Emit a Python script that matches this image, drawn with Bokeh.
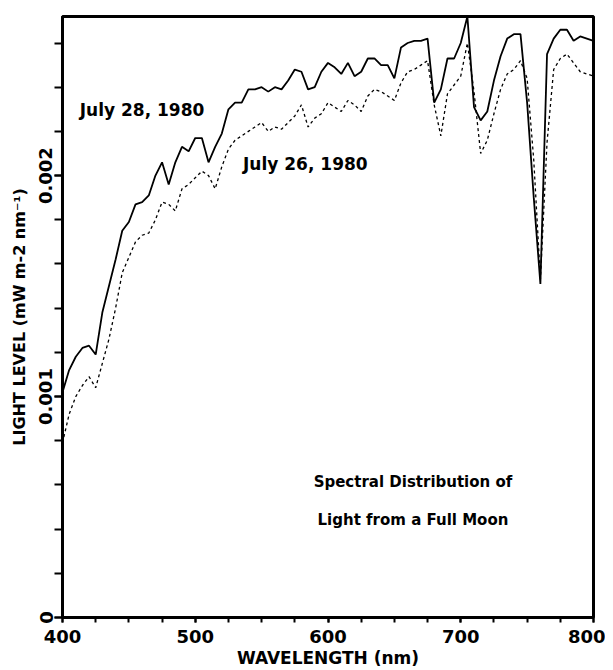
from bokeh.plotting import figure
from bokeh.models import FixedTicker, Range1d, Label
from bokeh.embed import file_html
from bokeh.resources import INLINE

# Wavelength grid (nm)
wavelength = list(range(400, 805, 5))

# July 28, 1980 (solid)  mW m-2 nm-1
july28 = [
    0.00102, 0.00112, 0.00118, 0.00122, 0.00123, 0.00119, 0.00138, 0.00150,  # 400-435
    0.00162, 0.00175, 0.00179, 0.00187, 0.00188, 0.00191, 0.00200, 0.00206,  # 440-475
    0.00196, 0.00206, 0.00213, 0.00211, 0.00217, 0.00217, 0.00206, 0.00213,  # 480-515
    0.00219, 0.00230, 0.00233, 0.00233, 0.00239, 0.00239, 0.00240, 0.00238,  # 520-555
    0.00240, 0.00239, 0.00243, 0.00248, 0.00247, 0.00239, 0.00240, 0.00247,  # 560-595
    0.00251, 0.00249, 0.00246, 0.00251, 0.00245, 0.00247, 0.00253, 0.00253,  # 600-635
    0.00250, 0.00250, 0.00244, 0.00258, 0.00260, 0.00261, 0.00261, 0.00262,  # 640-675
    0.00233, 0.00239, 0.00253, 0.00253, 0.00260, 0.00272, 0.00231, 0.00225,  # 680-715
    0.00229, 0.00243, 0.00254, 0.00262, 0.00264, 0.00264, 0.00233, 0.00190,  # 720-755
    0.00151, 0.00255, 0.00262, 0.00266, 0.00266, 0.00261, 0.00263, 0.00262,  # 760-795
    0.00261,                                                                  # 800
]

# July 26, 1980 (dashed)
july26 = [
    0.00079, 0.00092, 0.00100, 0.00105, 0.00109, 0.00104, 0.00115, 0.00126,  # 400-435
    0.00140, 0.00156, 0.00163, 0.00170, 0.00173, 0.00174, 0.00180, 0.00188,  # 440-475
    0.00187, 0.00184, 0.00194, 0.00196, 0.00199, 0.00202, 0.00200, 0.00194,  # 480-515
    0.00204, 0.00212, 0.00216, 0.00218, 0.00220, 0.00222, 0.00224, 0.00220,  # 520-555
    0.00222, 0.00221, 0.00224, 0.00227, 0.00232, 0.00222, 0.00226, 0.00228,  # 560-595
    0.00233, 0.00231, 0.00229, 0.00234, 0.00232, 0.00229, 0.00236, 0.00239,  # 600-635
    0.00238, 0.00236, 0.00234, 0.00242, 0.00247, 0.00248, 0.00250, 0.00252,  # 640-675
    0.00232, 0.00218, 0.00237, 0.00241, 0.00245, 0.00260, 0.00238, 0.00210,  # 680-715
    0.00216, 0.00228, 0.00239, 0.00246, 0.00248, 0.00252, 0.00244, 0.00207,  # 720-755
    0.00153, 0.00215, 0.00248, 0.00253, 0.00255, 0.00251, 0.00247, 0.00246,  # 760-795
    0.00245,                                                                  # 800
]

x_major = [400, 500, 600, 700, 800]
x_minor = list(range(400, 825, 25))
y_major = [0, 0.001, 0.002]
y_minor = [i * 0.0002 for i in range(0, 14)]
y_labels = {0: "0", 0.001: "0.001", 0.002: "0.002"}

FONT = "DejaVu Sans"

p = figure(width=605, height=670, output_backend="svg", toolbar_location=None,
           x_range=Range1d(400, 800), y_range=Range1d(0, 0.00272))
p.min_border_left = 62
p.min_border_right = 12
p.min_border_top = 16
p.min_border_bottom = 52
p.background_fill_color = "white"
p.border_fill_color = "white"
p.outline_line_color = "black"
p.outline_line_width = 3
p.xgrid.visible = False
p.ygrid.visible = False

p.line(wavelength, july28, line_color="black", line_width=1.8)
p.line(wavelength, july26, line_color="black", line_width=1.3, line_dash="3 3")

# x axis
xa = p.xaxis[0]
xa.ticker = FixedTicker(ticks=x_major, minor_ticks=x_minor)
xa.axis_label = "WAVELENGTH (nm)"
xa.axis_line_width = 3
xa.major_tick_in = 0
xa.major_tick_out = 5
xa.minor_tick_in = 0
xa.minor_tick_out = 5
xa.major_tick_line_width = 2
xa.minor_tick_line_width = 2
xa.major_label_text_font = FONT
xa.major_label_text_font_style = "bold"
xa.major_label_text_font_size = "18px"
xa.major_label_text_color = "black"
xa.major_label_standoff = 7
xa.axis_label_text_font = FONT
xa.axis_label_text_font_style = "bold"
xa.axis_label_text_font_size = "17px"
xa.axis_label_text_color = "black"
xa.axis_label_standoff = 2

# y axis
ya = p.yaxis[0]
ya.ticker = FixedTicker(ticks=y_major, minor_ticks=y_minor)
ya.major_label_overrides = y_labels
ya.major_label_orientation = "vertical"
ya.axis_label = "LIGHT LEVEL (mW m-2 nm\u207b\u00b9)"
ya.axis_line_width = 3
ya.major_tick_in = 0
ya.major_tick_out = 8
ya.minor_tick_in = 0
ya.minor_tick_out = 8
ya.major_tick_line_width = 2
ya.minor_tick_line_width = 2
ya.major_label_text_font = FONT
ya.major_label_text_font_style = "bold"
ya.major_label_text_font_size = "18px"
ya.major_label_text_color = "black"
ya.major_label_standoff = 2
ya.axis_label_text_font = FONT
ya.axis_label_text_font_style = "bold"
ya.axis_label_text_font_size = "16px"
ya.axis_label_text_color = "black"
ya.axis_label_standoff = 8

# annotations
def add_label(x, y, text, size, align="left"):
    p.add_layout(Label(x=x, y=y, text=text, text_font=FONT, text_font_style="bold",
                       text_font_size=size, text_color="black", text_align=align,
                       text_baseline="middle"))

add_label(413, 0.002299, "July 28, 1980", "17px")
add_label(536, 0.002054, "July 26, 1980", "17px")
add_label(664, 0.000615, "Spectral Distribution of", "15px", "center")
add_label(664, 0.000443, "Light from a Full Moon", "15px", "center")

open("out.html", "w").write(file_html(p, INLINE))
